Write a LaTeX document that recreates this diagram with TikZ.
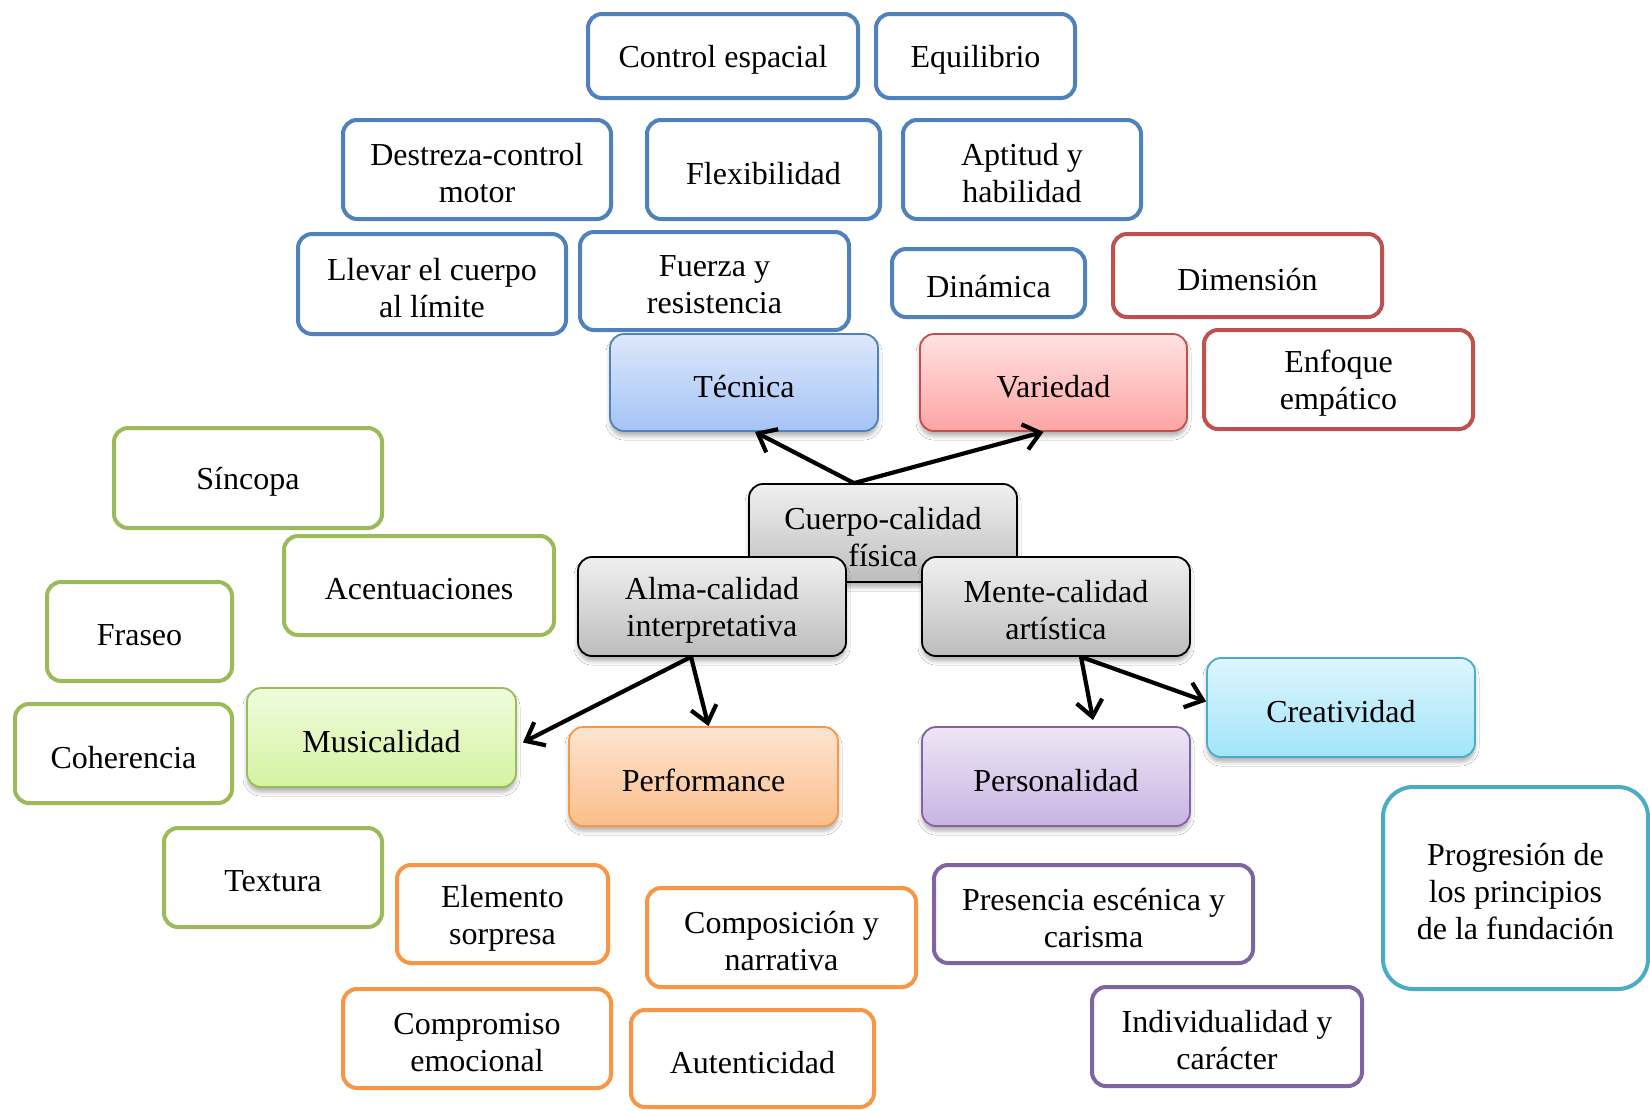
\documentclass[tikz,border=0pt]{standalone}
\usepackage{fontspec}
\setmainfont{Liberation Serif}
\usetikzlibrary{calc,arrows.meta,shadows.blur}

\definecolor{blueL}{HTML}{4F81BD}
\definecolor{redL}{HTML}{C0504D}
\definecolor{greenL}{HTML}{9BBB59}
\definecolor{orangeL}{HTML}{F79646}
\definecolor{purpleL}{HTML}{8064A2}
\definecolor{tealL}{HTML}{4BACC6}
% gradient ends
\definecolor{blueT}{HTML}{DDE8FB}\definecolor{blueB}{HTML}{A4C3F7}
\definecolor{redT}{HTML}{FFE2E2}\definecolor{redB}{HTML}{FDA4A4}
\definecolor{greenT}{HTML}{F0FCDD}\definecolor{greenB}{HTML}{D3F3A2}
\definecolor{orangeT}{HTML}{FDE4D0}\definecolor{orangeB}{HTML}{FBBE8B}
\definecolor{purpleT}{HTML}{EEE6F6}\definecolor{purpleB}{HTML}{C8B4E2}
\definecolor{tealT}{HTML}{DDF6FD}\definecolor{tealB}{HTML}{A2E4FA}
\definecolor{grayT}{HTML}{F0F0F0}\definecolor{grayB}{HTML}{BDBDBD}

% box from corner (x1,y1) to (x2,y2), in pixel units; its text sits a little low
\newcommand\mkbox[7]{%
  \node[#2, minimum width={(#5-#3)/2}, minimum height={(#6-#4)/2}]
    (#1) at ({(#3+#5)/2},{(#4+#6)/2}) {};
  \node[boxtext] (#1-t) at ($(#1.center)+(0,4)$) {#7};}

\begin{document}
\begin{tikzpicture}[x=0.5pt,y=-0.5pt,
  font=\fontsize{16}{18.5}\selectfont,
  box/.style={rounded corners=7pt, inner sep=0pt},
  boxtext/.style={inner sep=0pt, align=center},
  outl/.style={box, draw=#1, line width=2pt, fill=white},
  fillbox/.style n args={3}{box, draw=#1, line width=0.9pt,
    top color=#2, bottom color=#3,
    blur shadow={shadow xshift=0pt, shadow yshift=-2.5pt, shadow blur radius=2pt, shadow opacity=30}},
  link/.style={line width=2.1pt, -{Straight Barb[length=8pt,width=13pt]}}]

\fill[white] (0,0) rectangle (1650,1110);
\useasboundingbox (0,0) rectangle (1650,1110);

% technique group (blue)
\mkbox{ce}{outl=blueL}{588}{14}{858}{98}{Control espacial}
\mkbox{eq}{outl=blueL}{876}{14}{1075}{98}{Equilibrio}
\mkbox{dm}{outl=blueL}{343}{120}{611}{219}{Destreza-control\\motor}
\mkbox{fl}{outl=blueL}{647}{120}{880}{219}{Flexibilidad}
\mkbox{ah}{outl=blueL}{903}{120}{1141}{219}{Aptitud y\\habilidad}
\mkbox{lc}{outl=blueL}{298}{234}{566}{334}{Llevar el cuerpo\\al límite}
\mkbox{fr}{outl=blueL}{580}{232}{849}{330}{Fuerza y\\resistencia}
\mkbox{di}{outl=blueL}{892}{249}{1085}{317}{Dinámica}

% variety group (red)
\mkbox{dim}{outl=redL}{1113}{234}{1382}{317}{Dimensión}
\mkbox{en}{outl=redL}{1204}{330}{1473}{429}{Enfoque\\empático}

% musicality group (green)
\mkbox{sin}{outl=greenL}{114}{428}{382}{528}{Síncopa}
\mkbox{ace}{outl=greenL}{284}{536}{554}{635}{Acentuaciones}
\mkbox{fra}{outl=greenL}{47}{582}{232}{681}{Fraseo}
\mkbox{coh}{outl=greenL}{15}{704}{232}{803}{Coherencia}
\mkbox{tex}{outl=greenL}{164}{828}{382}{927}{Textura}

% performance group (orange)
\mkbox{ele}{outl=orangeL}{397}{865}{608}{963}{Elemento\\sorpresa}
\mkbox{com}{outl=orangeL}{647}{888}{916}{987}{Composición y\\narrativa}
\mkbox{cem}{outl=orangeL}{343}{989}{611}{1088}{Compromiso\\emocional}
\mkbox{aut}{outl=orangeL}{631}{1010}{874}{1107}{Autenticidad}

% personality group (purple)
\mkbox{pre}{outl=purpleL}{934}{865}{1253}{963}{Presencia escénica y\\carisma}
\mkbox{ind}{outl=purpleL}{1092}{987}{1362}{1086}{Individualidad y\\carácter}

% creativity group (teal)
\mkbox{pro}{outl=tealL, rounded corners=15pt}{1383}{787}{1648}{989}{Progresión de\\los principios\\de la fundación}

% central qualities
\mkbox{cue}{fillbox={black}{grayT}{grayB}}{749}{484}{1017}{582}{Cuerpo-calidad\\física}
\mkbox{alm}{fillbox={black}{grayT}{grayB}}{578}{557}{846}{656}{Alma-calidad\\interpretativa}
\mkbox{men}{fillbox={black}{grayT}{grayB}}{922}{557}{1190}{656}{Mente-calidad\\artística}

\mkbox{tec}{fillbox={blueL}{blueT}{blueB}}{610}{334}{878}{431}{Técnica}
\mkbox{var}{fillbox={redL}{redT}{redB}}{920}{334}{1187}{431}{Variedad}
\mkbox{mus}{fillbox={greenL}{greenT}{greenB}}{247}{688}{516}{787}{Musicalidad}
\mkbox{per}{fillbox={orangeL}{orangeT}{orangeB}}{569}{727}{838}{826}{Performance}
\mkbox{pers}{fillbox={purpleL}{purpleT}{purpleB}}{922}{727}{1190}{826}{Personalidad}
\mkbox{cre}{fillbox={tealL}{tealT}{tealB}}{1207}{658}{1475}{757}{Creatividad}

% connectors
\coordinate (cueTop) at ($(cue.north)+(-29,0)$);
\coordinate (almBot) at ($(alm.south)+(-21,0)$);
\coordinate (menBot) at ($(men.south)+(25,0)$);
\draw[link] (cueTop) -- ($(tec.south)+(11,0)$);
\draw[link] (cueTop) -- ($(var.south)+(-10,0)$);
\draw[link] (almBot) -- ($(mus.east)+(6,5)$);
\draw[link] (almBot) -- ($(per.north)+(5,0)$);
\draw[link] (menBot) -- ($(pers.north)+(37,-6)$);
\draw[link] (menBot) -- ($(cre.west)+(0,-6)$);
\end{tikzpicture}
\end{document}
